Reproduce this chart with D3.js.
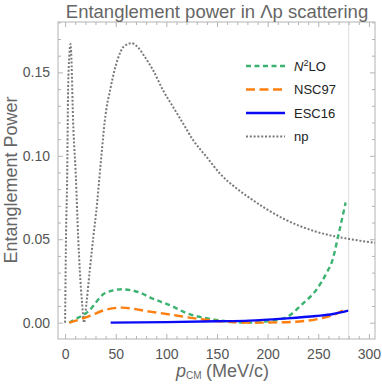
<!DOCTYPE html>
<html>
<head>
<meta charset="utf-8">
<script src="https://cdn.jsdelivr.net/npm/d3@7"></script>
<style>
  body { margin: 0; background: #fff; }
  text { font-family: "Liberation Sans", Arial, sans-serif; }
</style>
</head>
<body>
<div id="container"></div>
<script>
/* DATA */
const npP   = [0, 0.5, 1, 2, 3, 4.2, 5.3, 6, 7.9, 10.6, 12.9, 14.5, 16.8, 18.8, 21.1, 24.4, 28, 31.6, 33.6, 36, 39.2, 45, 52, 58, 65.5, 72, 78.7, 86.9, 96.7, 106.6, 116.5, 126.4, 139.6, 152.7, 169.2, 180.7, 215, 248, 281, 306]
const npV   = [0, 0.03, 0.055, 0.085, 0.14, 0.16, 0.167, 0.162, 0.121, 0.088, 0.0515, 0.0316, 0.0116, 0, 0.0116, 0.0316, 0.052, 0.0715, 0.085, 0.101, 0.121, 0.141, 0.158, 0.1655, 0.1675, 0.165, 0.1593, 0.1513, 0.1393, 0.1293, 0.1194, 0.1094, 0.0994, 0.0895, 0.0805, 0.0754, 0.0625, 0.0545, 0.0501, 0.0479]

const n2loP = [4, 10, 22.7, 39.2, 55.7, 75.4, 83.6, 106.6, 116.5, 149.5, 182, 202, 218.5, 235, 248, 258, 264, 269.5, 277]
const n2loV = [0, 0.002, 0.0066, 0.0176, 0.020, 0.0176, 0.0152, 0.0096, 0.0066, 0.0016, 0.0, 0.001, 0.0032, 0.0116, 0.0196, 0.0296, 0.0375, 0.0515, 0.072]

const nscP  = [4, 22.7, 39.2, 55.7, 83.6, 106.6, 116.5, 149.5, 182, 215, 248, 264.6, 276]
const nscV  = [0, 0.0036, 0.0076, 0.009, 0.0066, 0.0046, 0.0036, 0.001, 0.0, 0.0002, 0.002, 0.0046, 0.0076]

const escP  = [45, 100, 149.5, 182, 215, 248, 264.6, 279.5]
const escV  = [0, 0.0003, 0.0008, 0.0012, 0.0024, 0.004, 0.0052, 0.0072]

const xTicks = [0, 50, 100, 150, 200, 250, 300]
const yTicks = [0, 0.05, 0.10, 0.15]
const legendNames = ["N2LO", "NSC97", "ESC16", "np"]

/* CONSTANTS */
var W = 382, H = 386
var margin = {top: 22, right: 7, bottom: 47, left: 58},
    width = W - margin.left - margin.right,
    height = H - margin.top - margin.bottom

const svg = d3.select("#container")
  .append("svg")
   .attr("width", W)
   .attr("height", H)

const g = svg.append("g")
  .attr("transform", "translate(" + margin.left + "," + margin.top + ")")

/* SCALES */
const xScale = d3.scaleLinear().domain([-7, 306]).range([0, width])
const yScale = d3.scaleLinear().domain([-0.0098, 0.1802]).range([height, 0])

const frameColor = "#b3b3b3"

// threshold line
g.append("line")
  .attr("x1", xScale(280)).attr("x2", xScale(280))
  .attr("y1", 0).attr("y2", height)
  .attr("stroke", "#dcdcdc").attr("stroke-width", 1)

// axes: major + minor ticks on all sides, pointing inwards
const xMinor = d3.range(0, 301, 10).filter(v => v % 50 !== 0)
const yMinor = d3.range(0, 0.1801, 0.01).filter((v, i) => i % 5 !== 0)

function styleAxis(sel) {
  sel.select(".domain").remove()
  sel.selectAll(".tick line").attr("stroke", frameColor)
  sel.selectAll(".tick text")
    .attr("fill", "#555")
    .style("font-size", "14px")
    .style("font-family", "'Liberation Sans', Arial, sans-serif")
}

g.append("g").attr("transform", "translate(0," + height + ")")
  .call(d3.axisBottom(xScale).tickValues(xTicks).tickSize(-5).tickPadding(10).tickFormat(d3.format("d")))
  .call(styleAxis)
g.append("g").attr("transform", "translate(0," + height + ")")
  .call(d3.axisBottom(xScale).tickValues(xMinor).tickSize(-3).tickFormat(""))
  .call(styleAxis)
g.append("g")
  .call(d3.axisTop(xScale).tickValues(xTicks).tickSize(-5).tickFormat(""))
  .call(styleAxis)
g.append("g")
  .call(d3.axisTop(xScale).tickValues(xMinor).tickSize(-3).tickFormat(""))
  .call(styleAxis)

g.append("g")
  .call(d3.axisLeft(yScale).tickValues(yTicks).tickSize(-5).tickPadding(8).tickFormat(d3.format(".2f")))
  .call(styleAxis)
g.append("g")
  .call(d3.axisLeft(yScale).tickValues(yMinor).tickSize(-3).tickFormat(""))
  .call(styleAxis)
g.append("g").attr("transform", "translate(" + width + ",0)")
  .call(d3.axisRight(yScale).tickValues(yTicks).tickSize(-5).tickFormat(""))
  .call(styleAxis)
g.append("g").attr("transform", "translate(" + width + ",0)")
  .call(d3.axisRight(yScale).tickValues(yMinor).tickSize(-3).tickFormat(""))
  .call(styleAxis)

// frame
g.append("rect")
  .attr("width", width).attr("height", height)
  .attr("fill", "none").attr("stroke", frameColor).attr("stroke-width", 1)

/* LINES */
const line = d3.line()
  .x(d => xScale(d[0]))
  .y(d => yScale(d[1]))
  .curve(d3.curveMonotoneX)

const series = [
  {name: "N2LO",  p: n2loP, v: n2loV, color: "#3cb371", dash: "5,3.5", w: 2.4},
  {name: "NSC97", p: nscP,  v: nscV,  color: "#ff7f0e", dash: "9,4.5", w: 2.4},
  {name: "ESC16", p: escP,  v: escV,  color: "#0a0af5", dash: null,    w: 2.4},
  {name: "np",    p: npP,   v: npV,   color: "#7a7a7a", dash: "2,1.8", w: 2}
]

const plot = g.append("g")
plot.selectAll("path.series")
  .data([series[3], series[0], series[1], series[2]])
  .join("path")
  .attr("class", "series")
  .attr("fill", "none")
  .attr("stroke", d => d.color)
  .attr("stroke-width", d => d.w)
  .attr("stroke-dasharray", d => d.dash)
  .attr("d", d => line(d.p.map((p, i) => [p, d.v[i]])))

/* LEGEND */
const legend = svg.append("g").attr("transform", "translate(246,66)")
const rows = legend.selectAll("g.row")
  .data(series)
  .join("g")
  .attr("class", "row")
  .attr("transform", (d, i) => "translate(0," + (i * 23.5) + ")")

rows.append("line")
  .attr("x1", 0).attr("x2", 39)
  .attr("stroke", d => d.color)
  .attr("stroke-width", d => d.w)
  .attr("stroke-dasharray", d => d.dash)

const labels = rows.append("text")
  .attr("x", 48).attr("y", 4.5)
  .attr("fill", "#222")
  .style("font-size", "13px")

labels.each(function(d) {
  const t = d3.select(this)
  if (d.name === "N2LO") {
    t.append("tspan").style("font-style", "italic").text("N")
    t.append("tspan").attr("dy", -5).style("font-size", "9px").text("2")
    t.append("tspan").attr("dy", 5).text("LO")
  } else {
    t.text(d.name)
  }
})

/* TITLES */
svg.append("text")
  .attr("x", 217).attr("y", 18)
  .attr("text-anchor", "middle")
  .attr("fill", "#666")
  .style("font-size", "18.5px")
  .text("Entanglement power in Λp scattering")

svg.append("text")
  .attr("transform", "translate(17,180) rotate(-90)")
  .attr("text-anchor", "middle")
  .attr("fill", "#666")
  .style("font-size", "18px")
  .text("Entanglement Power")

const xt = svg.append("text")
  .attr("x", 176).attr("y", 377)
  .attr("fill", "#666")
  .style("font-size", "18px")
xt.append("tspan").style("font-style", "italic").text("p")
xt.append("tspan").attr("dy", 2).style("font-size", "10px").text("CM")
xt.append("tspan").attr("dy", -2).attr("x", 206).text("(MeV/c)")
</script>
</body>
</html>
